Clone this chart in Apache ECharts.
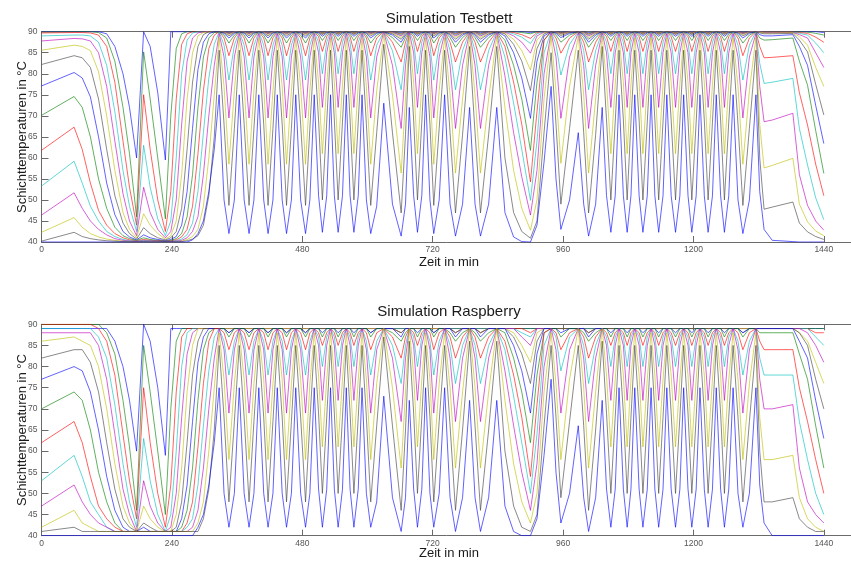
<!DOCTYPE html>
<html><head><meta charset="utf-8">
<script src="https://cdn.jsdelivr.net/npm/echarts@6/dist/echarts.min.js"></script>
<style>html,body{margin:0;padding:0;background:#fff}#c{width:851px;height:561px}</style>
</head><body><div id="c"></div>
<script>
// ---------- shared time axis (min) ----------
const xTicks = [0, 240, 480, 720, 960, 1200, 1440];
const yTicks = [40, 45, 50, 55, 60, 65, 70, 75, 80, 85, 90];
const zeitStart = [0,60,75,90,105,120,135,150,162,175,188,200,214,228,238,248,258,268,278,288,298,308,318,327];
// cycles: [falling mid, trough, rising mid, peak]
const zyklenA = [[336,345,355,364],[373,382,391,400],[409,417,426,434],[443,451,460,468],[477,486,494,502],
  [510,517,525,532],[539,546,554,561],[568,575,583,590],[598,606,617,630],[646,662,670,677],
  [685,692,700,707],[715,722,732,742],[752,762,775,788],[798,808,823,838]];
const typA = ['n','n','n','n','n','a','a','a','l','d','a','n','d','d'];
const zeitBreit = [853,869,884,900,912,925,938];
const zyklenB = [[947,956,972,988],[998,1007,1020,1032],[1040,1048,1056,1063],[1071,1078,1085,1092],
  [1100,1107,1115,1122],[1129,1136,1144,1151],[1159,1167,1175,1182],[1190,1197,1205,1212],
  [1220,1227,1235,1242],[1250,1257,1265,1273],[1282,1291,1303,1315]];
const typB = ['r','d','a','a','a','a','a','a','a','a','n'];
const zeitEnde = [1322,1330,1345,1383,1395,1410,1425,1440];

// ---------- Simulation Testbett (layers 1 = top ... 15 = bottom) ----------
const tbStart = [
 [90,90,90,90,90,89.5,86.5,80,72,60,90,86.5,75.5,59.5,90,90,90,90,90,90,90,90,90,90],
 [89.9,90,90,90,89.8,88.5,83,72,61,46,85.2,74,60,45.5,70,86,89.5,90,90,90,90,90,90,90],
 [89.7,89.8,89.8,89.7,89.2,86.5,78,64,53,44,75,62,50,42.5,52,74,87,89.5,90,90,90,90,90,90],
 [89,89.2,89.2,89,87.5,82,71,57,48.5,42.5,63,53,45.5,41.5,45,60,80,88,89.7,90,90,90,90,90],
 [87.8,88.4,88.3,87.8,85,77,64,51.5,45,41.5,53,47,43,41,42.5,50,68,83,88.5,89.7,90,90,90,90],
 [85.6,86.8,86.5,85.5,80.5,70,57,47,43,41,46.7,44,42,40.7,41.5,45,56,74,85,89,89.8,90,90,90],
 [82.2,84.3,83.8,81.5,74,62,51,44.5,42,40.7,43.4,42,41,40.5,41,42.5,48,62,78,86.5,89.3,90,90,90],
 [77.1,80.3,79,74.5,65,54,46.5,42.5,41.2,40.5,41.7,41,40.6,40.3,40.6,41.3,44,52,67,81,87.5,89.5,90,90],
 [70.1,74.6,72,65,55,48,43.5,41.5,40.8,40.4,41,40.6,40.4,40.2,40.4,40.8,42,46,56,72,84,88.5,89.8,90],
 [61.8,67.3,62,54,47.5,44,42,41,40.5,40.3,40.6,40.4,40.3,40.2,40.3,40.5,41.2,43,48.5,61,76,86,89.2,90],
 [53.3,59.2,54,48.5,45,42.5,41.3,40.6,40.3,40.2,40.4,40.3,40.2,40.2,40.2,40.3,40.7,41.7,44.5,52,66,79,87,90],
 [46.4,51.7,48,45,43,41.7,40.8,40.4,40.2,40.1,40.3,40.2,40.2,40.1,40.1,40.2,40.4,41,42.5,46,56,70,82,89.6],
 [42.3,45.8,43.5,42,41.2,40.7,40.4,40.2,40.1,40,40.2,40.1,40.1,40,40,40.1,40.2,40.6,41.3,43,48.5,60,75,88.6],
 [40.2,42.3,41.3,40.8,40.5,40.3,40.2,40.1,40,40,40.1,40,40,40,40,40,40.1,40.3,40.7,41.5,44,51,65,85.6],
 [40,40,40,40,40,40,40,40,40,40,40,40,40,40,40,40,40,40,40.5,42,45,52,62,75]
];
const tbProfilN = [[90,89.9,90,90],[90,89.8,90,90],[90,89.7,90,90],[90,89.6,90,90],[90,89.5,90,90],
 [89.9,89.3,89.9,90],[89.8,89,89.8,90],[89.6,88.5,89.6,90],[89.2,87.3,89.2,90],[88.5,84.3,88.5,90],
 [86.8,78.5,86.8,90],[84,69.5,84,89.6],[77,58.5,76,88.6],[68,48.7,67,85.6],[50,42,50,75]];
const tbProfilA = [[90,89.9,90,90],[90,89.8,90,90],[90,89.7,90,90],[90,89.6,90,90],[90,89.5,90,90],
 [90,89.5,90,90],[89.9,89.3,89.9,90],[89.7,88.9,89.7,90],[89.4,87.9,89.4,90],[88.8,85.3,88.8,90],
 [87.5,80,87.5,90],[85,72,85,89.6],[78,61,77.5,88.6],[69,50,68.5,85.6],[51,42.3,51,75]];
const tbProfilD = [[90,89.8,90,90],[90,89.6,90,90],[90,89.4,90,90],[89.9,89.2,89.9,90],[89.8,89,89.8,90],
 [89.7,88.6,89.7,90],[89.5,88.2,89.5,90],[89.2,87.5,89.2,90],[88.6,86.3,88.6,90],[87.5,82.8,87.5,90],
 [85.5,76.2,85.5,90],[82,67,82,89.8],[75,56.4,74,89],[66,46.9,65.5,86.5],[49,41.4,49,72]];
const tbProfilL = [[90,89.9,90,90],[90,89.8,90,90],[90,89.7,90,90],[90,89.6,90,90],[90,89.5,90,90],
 [89.9,89.3,89.9,90],[89.8,89,89.8,90],[89.6,88.5,89.6,90],[89.2,87.3,89.2,90],[88.5,84.3,88.5,90],
 [86.8,78.5,86.8,90],[84,69.5,84,89.9],[77,58.5,76,89.3],[68,48.7,66,87],[50,42,48.5,73]];
const tbProfilR = [[90,89.9,90,90],[90,89.8,90,90],[90,89.7,90,90],[90,89.6,90,90],[90,89.5,90,90],
 [89.9,89.4,89.9,90],[89.8,89.1,89.8,90],[89.6,88.6,89.6,90],[89.2,87.5,89.2,90],[88.5,84.9,88.5,90],
 [87,79.7,87,90],[84,69.4,84,89.8],[76,58.7,77,89],[68,49,67,85.6],[55,43,50,66]];
const tbBreit = [
 [90,90,90,89.8,90,90,90],[90,90,89.8,89.5,90,90,90],[90,89.8,89.3,88.4,89.8,90,90],
 [90,89.5,88.7,87.2,89.5,90,90],[89.9,89,87.5,84.9,89,89.9,90],[89.7,88.2,85.5,80.9,88,89.8,90],
 [89.5,87,83,76,86,89.5,90],[89,85,79,69.4,83,89,90],[88,82,74,61.8,78,88,90],
 [86.5,78,68,54.3,71,88,90],[84,73,62,49.9,64,85,90],[79.5,66,55.5,46.4,57,80,89.8],
 [72,57,48,42.8,50,74,89],[60,47,42.5,40.9,45,66,85],[47,41.2,40.1,40,44,59,77]
];
const tbEnde = [
 [90,90,90,90,90,90,90,89.8],[90,90,90,90,90,89.9,89.6,89.2],[90,90,90,90,89.8,89.6,88.7,87.5],
 [90,89.9,89.9,89.9,89.6,89.2,87.3,85],[90,89.8,89.8,89.8,89.3,88.5,85,81.5],[89.9,89.7,89.7,89.8,88.8,86.8,81.5,77],
 [89.7,89.5,89.5,89.6,88,85.2,77.5,70.2],[89.3,89,89,89.3,86.5,82,72.5,63.4],[88.5,88,88.1,88.5,83,77.3,66.5,56.3],
 [86.5,83.8,83.9,84.3,75.5,67.8,58.5,51],[82.5,77.7,78,78.9,67,58.3,50.5,45.3],[77,68.6,69,70.6,56,48.7,45,42.8],
 [68,57.6,58.2,59.9,49,44.8,42.6,41.5],[60,47.8,48.3,49.5,44.5,42.4,41.3,40.6],[52,43,40.4,40.1,40,40,40,40]
];

// ---------- Simulation Raspberry ----------
const rpStart = [
 [89,89,89,89,89,89,86,80,72,60,90,86,75,59,89,89,89,89,89,89,89,89,89,89],
 [90,90,90,90,90,88,83,72,61,46,85,74,60,45,70,86,89,89,89,89,89,89,89,89],
 [90,90,90,90,89,86,78,64,53,44,75,62,50,42,52,74,87,89,89,89,89,89,89,89],
 [89,89,89,89,87,82,71,57,48,42,63,53,45,41,45,60,80,88,89,89,89,89,89,89],
 [88,88,88,88,85,77,64,51,45,41,53,47,43,41,42,50,68,83,88,89,89,89,89,89],
 [86,87,86,85,80,70,57,47,43,41,47,44,42,41,41,45,56,74,85,89,89,89,89,89],
 [82,84,84,81,74,62,51,44,42,41,43,42,41,41,41,42,48,62,78,86,89,89,89,89],
 [77,80,79,74,65,54,46,42,41,41,42,41,41,41,41,41,44,52,67,81,87,89,89,89],
 [70,74,72,65,55,48,43,41,41,41,41,41,41,41,41,41,42,46,56,72,84,88,89,89],
 [62,67,62,54,47,44,42,41,41,41,41,41,41,41,41,41,41,43,48,61,76,86,89,89],
 [53,59,54,48,45,42,41,41,41,41,41,41,41,41,41,41,41,42,44,52,66,79,87,89],
 [47,52,48,45,43,42,41,41,41,41,41,41,41,41,41,41,41,41,42,46,56,70,82,89],
 [42,46,43,42,41,41,41,41,41,41,41,41,41,41,41,41,41,41,41,43,48,60,75,88],
 [41,42,41,41,41,41,41,41,41,41,41,41,41,41,41,41,41,41,41,41,44,51,65,85],
 [40,40,40,40,40,40,40,40,40,40,40,40,40,40,40,40,40,40,40,42,45,52,62,75]
];
const rpProfilN = [[89,89,89,89],[89,89,89,89],[89,89,89,89],[89,89,89,89],[89,89,89,89],
 [89,89,89,89],[89,88,89,89],[89,88,89,89],[89,87,89,89],[88,84,88,89],
 [86,78,86,89],[84,69,84,89],[77,58,76,88],[68,48,67,85],[50,42,50,75]];
const rpProfilA = [[89,89,89,89],[89,89,89,89],[89,89,89,89],[89,89,89,89],[89,89,89,89],
 [89,89,89,89],[89,89,89,89],[89,88,89,89],[89,87,89,89],[88,85,88,89],
 [87,80,87,89],[85,72,85,89],[78,61,77,88],[69,50,68,85],[51,42,51,75]];
const rpProfilD = [[89,89,89,89],[89,89,89,89],[89,89,89,89],[89,89,89,89],[89,88,89,89],
 [89,88,89,89],[89,88,89,89],[89,87,89,89],[88,86,88,89],[87,82,87,89],
 [85,76,85,89],[82,67,82,89],[75,56,74,89],[66,46,65,86],[49,41,49,72]];
const rpProfilL = [[89,89,89,89],[89,89,89,89],[89,89,89,89],[89,89,89,89],[89,89,89,89],
 [89,89,89,89],[89,88,89,89],[89,88,89,89],[89,87,89,89],[88,84,88,89],
 [86,78,86,89],[84,69,84,89],[77,58,76,89],[68,48,66,87],[50,42,48,73]];
const rpProfilR = [[89,89,89,89],[89,89,89,89],[89,89,89,89],[89,89,89,89],[89,89,89,89],
 [89,89,89,89],[89,89,89,89],[89,88,89,89],[89,87,89,89],[88,84,88,89],
 [87,79,87,89],[84,69,84,89],[76,58,77,89],[68,49,67,85],[55,43,50,66]];
const rpBreit = [
 [89,89,89,89,89,89,89],[89,89,89,89,89,89,89],[89,89,89,88,89,89,89],
 [89,89,88,87,89,89,89],[89,89,87,85,89,89,89],[89,88,85,81,88,89,89],
 [89,87,83,76,86,89,89],[89,85,79,69,83,89,89],[88,82,74,62,78,88,89],
 [86,78,68,54,71,88,89],[84,73,62,50,64,85,89],[79,66,55,46,57,80,89],
 [72,57,48,43,50,74,88],[60,47,42,41,45,66,85],[47,41,40,40,44,59,77]
];
const rpEnde = [
 [89,89,89,89,89,89,89,89],[89,89,89,89,89,89,89,89],[89,89,89,89,89,89,88,88],
 [89,89,89,89,89,89,87,85],[89,89,89,89,89,88,85,81],[89,89,89,89,88,86,81,76],
 [89,89,89,89,88,85,77,70],[89,89,89,89,86,82,72,63],[88,88,88,88,83,77,66,56],
 [86,84,84,84,75,67,58,50],[82,78,78,78,67,58,50,45],[77,70,70,71,56,48,45,43],
 [68,58,58,59,49,44,42,41],[60,48,48,49,44,42,41,41],[52,43,40,40,40,40,40,40]
];

const farben = ['#0000ff','#008000','#ff0000','#00bfbf','#bf00bf','#bfbf00','#404040'];

function schicht(k, start, prof, breit, ende) {
  const pts = [];
  zeitStart.forEach((t, i) => pts.push([t, start[k][i]]));
  zyklenA.forEach((ts, c) => { const p = prof[typA[c]][k]; ts.forEach((t, j) => pts.push([t, p[j]])); });
  zeitBreit.forEach((t, i) => pts.push([t, breit[k][i]]));
  zyklenB.forEach((ts, c) => { const p = prof[typB[c]][k]; ts.forEach((t, j) => pts.push([t, p[j]])); });
  zeitEnde.forEach((t, i) => pts.push([t, ende[k][i]]));
  return pts;
}

const panels = [
  { start: tbStart, prof: {n: tbProfilN, a: tbProfilA, d: tbProfilD, l: tbProfilL, r: tbProfilR}, breit: tbBreit, ende: tbEnde },
  { start: rpStart, prof: {n: rpProfilN, a: rpProfilA, d: rpProfilD, l: rpProfilL, r: rpProfilR}, breit: rpBreit, ende: rpEnde }
];

const FONT = 'Liberation Sans, Arial, sans-serif';
const axisCol = '#6a6a6a';
const grids = [
  { left: 41.5, top: 31.7, width: 813, height: 210.3, show: false },
  { left: 41.5, top: 324.3, width: 813, height: 211.4, show: false }
];
const xAxes = [], yAxes = [], series = [];
grids.forEach((g, gi) => {
  xAxes.push({ gridIndex: gi, type: 'value', position: 'bottom', min: 0, max: 1490, interval: 240,
    axisLine: { show: true, lineStyle: { color: axisCol, width: 1 } },
    axisTick: { show: true, inside: true, length: 6, customValues: xTicks, lineStyle: { color: axisCol } },
    axisLabel: { show: true, customValues: xTicks, formatter: v => String(v), fontSize: 8.5, color: '#555', margin: 3, fontFamily: FONT },
    splitLine: { show: false } });
  xAxes.push({ gridIndex: gi, type: 'value', position: 'top', min: 0, max: 1490, interval: 240,
    axisLine: { show: true, onZero: false, lineStyle: { color: axisCol, width: 1 } },
    axisTick: { show: true, inside: true, length: 6, customValues: xTicks, lineStyle: { color: axisCol } },
    axisLabel: { show: false }, splitLine: { show: false } });
  yAxes.push({ gridIndex: gi, type: 'value', min: 40, max: 90, interval: 5,
    axisLine: { show: true, lineStyle: { color: axisCol, width: 1 } },
    axisTick: { show: true, inside: true, length: 7, lineStyle: { color: axisCol } },
    axisLabel: { show: true, formatter: v => String(v), fontSize: 8.5, color: '#555', margin: 4, fontFamily: FONT },
    splitLine: { show: false } });
  const P = panels[gi];
  for (let k = 0; k < 15; k++) {
    series.push({ type: 'line', xAxisIndex: gi * 2, yAxisIndex: gi, symbol: 'none', silent: true,
      data: schicht(k, P.start, P.prof, P.breit, P.ende),
      lineStyle: { width: 1, color: farben[k % 7], opacity: 0.62 } });
  }
});

const txt = (x, y, s, size, rot) => ({ type: 'text', x: x, y: y, rotation: rot || 0, silent: true,
  style: { text: s, fontSize: size, fontFamily: FONT, fill: '#1a1a1a', align: 'center', verticalAlign: 'middle' } });

const chart = echarts.init(document.getElementById('c'), null, { renderer: 'canvas' });
chart.setOption({
  animation: false,
  backgroundColor: '#ffffff',
  grid: grids, xAxis: xAxes, yAxis: yAxes, series: series,
  graphic: [
    txt(449, 19, 'Simulation Testbett', 15),
    txt(449, 312, 'Simulation Raspberry', 15),
    txt(449, 262, 'Zeit in min', 13),
    txt(449, 553, 'Zeit in min', 13),
    txt(22, 137, 'Schichttemperaturen in °C', 13, Math.PI / 2),
    txt(22, 430, 'Schichttemperaturen in °C', 13, Math.PI / 2)
  ]
});
</script></body></html>
